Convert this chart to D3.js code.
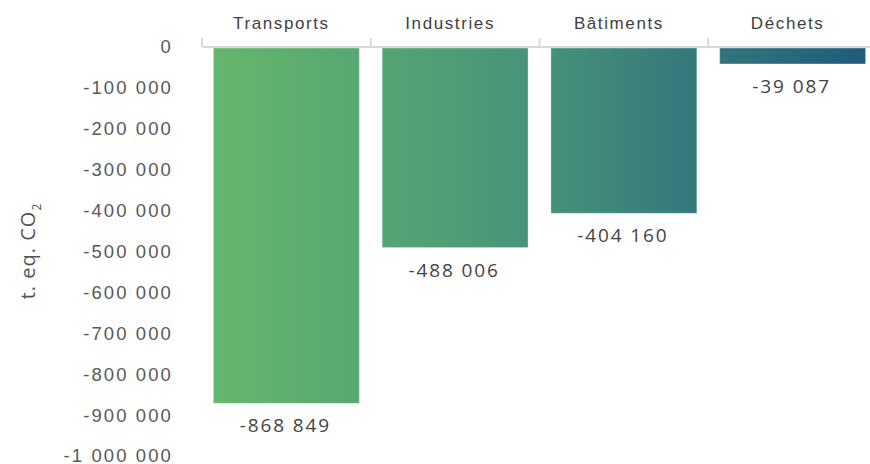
<!DOCTYPE html>
<html>
<head>
<meta charset="utf-8">
<script src="https://cdn.jsdelivr.net/npm/d3@7"></script>
<style>
  html, body { margin: 0; padding: 0; background: #fff; }
  svg { display: block; font-family: "Open Sans", Roboto, sans-serif; }
</style>
</head>
<body>
<svg id="chart" width="870" height="464"></svg>
<script>
// Emissions reduction by sector (t. eq. CO2)
const categories = ["Transports", "Industries", "Bâtiments", "Déchets"];
const values = [-868849, -488006, -404160, -39087];
const yTicks = [0, -100000, -200000, -300000, -400000, -500000, -600000, -700000, -800000, -900000, -1000000];

const svg = d3.select("#chart");
const axisY = 47;

const x = d3.scaleBand()
  .domain(categories)
  .range([202, 877])
  .paddingInner(0.135)
  .paddingOuter(0.0675);

const y = d3.scaleLinear()
  .domain([0, -1000000])
  .range([48, 457]);

// space as thousands separator, plain hyphen for negatives
const fmt = v => d3.format(",")(v).replace(/,/g, " ").replace("\u2212", "-");

// horizontal gradient spanning all bars
const defs = svg.append("defs");
const grad = defs.append("linearGradient")
  .attr("id", "barGrad")
  .attr("gradientUnits", "userSpaceOnUse")
  .attr("x1", x(categories[0])).attr("x2", x(categories[3]) + x.bandwidth())
  .attr("y1", 0).attr("y2", 0);
grad.append("stop").attr("offset", "0%").attr("stop-color", "#64b76b");
grad.append("stop").attr("offset", "50%").attr("stop-color", "#47937a");
grad.append("stop").attr("offset", "100%").attr("stop-color", "#1f5c7c");

// bars
svg.append("g").selectAll("rect")
  .data(categories)
  .join("rect")
  .attr("x", d => x(d))
  .attr("y", y(0))
  .attr("width", x.bandwidth())
  .attr("height", (d, i) => y(values[i]) - y(0))
  .attr("fill", "url(#barGrad)")
  .attr("stroke", "rgba(255,255,255,0.35)")
  .attr("stroke-width", 1);

// category axis along the zero line, labels on top
const xAxis = svg.append("g")
  .attr("transform", `translate(0,${axisY})`)
  .call(d3.axisTop(x).tickSize(0).tickPadding(18));
xAxis.select(".domain").attr("stroke", "#d9d9d9").attr("stroke-width", 2)
  .attr("d", `M${x.range()[0]},0H${x.range()[1]}`);
xAxis.selectAll(".tick text")
  .attr("font-size", 17).attr("letter-spacing", 1.6).attr("dx", -5)
  .attr("fill", "#404040");
// separators between categories
const seps = categories.map(c => x(c) - x.step() * x.paddingInner() / 2);
seps.push(x.range()[1]);
xAxis.selectAll("line.sep")
  .data(seps)
  .join("line")
  .attr("class", "sep")
  .attr("x1", d => d).attr("x2", d => d)
  .attr("y1", 0).attr("y2", -9)
  .attr("stroke", "#d9d9d9").attr("stroke-width", 2);

// value axis labels
const yAxis = svg.append("g")
  .attr("transform", "translate(173,-1)")
  .call(d3.axisLeft(y).tickValues(yTicks).tickFormat(fmt).tickSize(0).tickPadding(0));
yAxis.select(".domain").remove();
yAxis.selectAll(".tick text")
  .attr("font-size", 18.5).attr("letter-spacing", 2.1).attr("fill", "#595959");

// value labels under bars
svg.append("g").selectAll("text")
  .data(categories)
  .join("text")
  .attr("x", d => x(d) + x.bandwidth() / 2 - 1)
  .attr("y", (d, i) => y(values[i]) + 29)
  .attr("text-anchor", "middle")
  .attr("font-size", 19)
  .attr("letter-spacing", 1.9)
  .attr("fill", "#444")
  .text((d, i) => fmt(values[i]));

// y axis title
const title = svg.append("text")
  .attr("transform", "translate(35,251) rotate(-90)")
  .attr("text-anchor", "middle")
  .attr("font-size", 20)
  .attr("letter-spacing", 1)
  .attr("fill", "#555");
title.append("tspan").text("t. eq. CO");
title.append("tspan").attr("font-size", 12).attr("dy", 6).text("2");
</script>
</body>
</html>
